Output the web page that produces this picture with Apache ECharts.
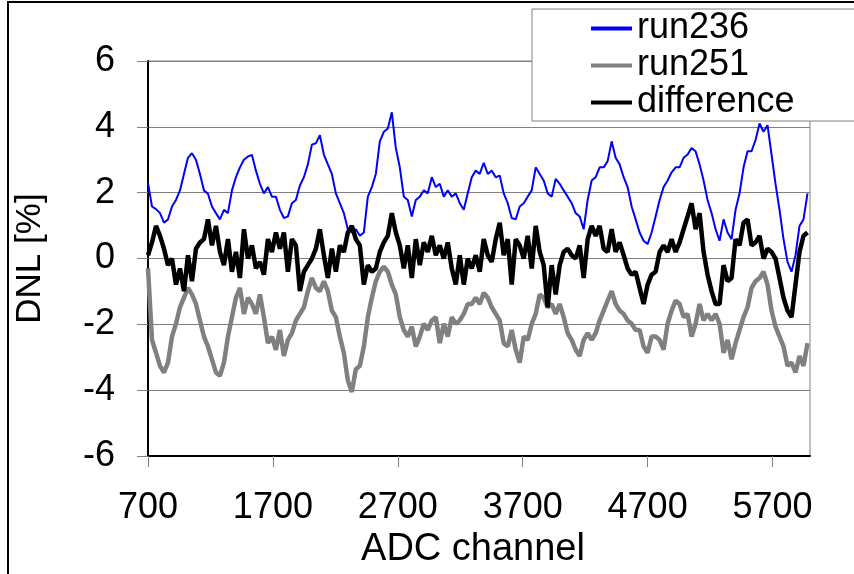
<!DOCTYPE html>
<html>
<head>
<meta charset="utf-8">
<script src="https://cdn.jsdelivr.net/npm/echarts@6/dist/echarts.min.js"></script>
<style>
html,body{margin:0;padding:0;background:#fff;}
#c{width:854px;height:574px;}
</style>
</head>
<body>
<div id="c"></div>
<script>
// sampling grid: first ADC channel and channel step between samples
const chStart = 700;
const chStep = 32;
const xTicks = [700, 1700, 2700, 3700, 4700, 5700];
const yTicks = [-6, -4, -2, 0, 2, 4, 6];
const seriesNames = ['run236', 'run251', 'difference'];

const run236 = [2.3,1.58,1.5,1.38,1.09,1.19,1.58,1.78,2.07,2.57,3.06,3.2,3.0,2.57,2.07,1.97,1.58,1.38,1.19,1.48,1.38,2.07,2.47,2.77,3.0,3.1,3.15,2.67,
2.27,1.98,2.17,1.88,1.88,1.48,1.23,1.28,1.68,1.78,2.22,2.47,2.86,3.46,3.5,3.75,3.16,2.86,2.57,1.98,1.68,1.38,0.89,0.79,0.89,0.69,0.79,1.88,
2.17,2.57,3.56,3.85,3.95,4.44,3.36,2.77,1.88,1.78,1.28,1.78,1.88,2.07,1.98,2.47,2.17,2.27,1.88,2.07,1.88,1.98,1.68,1.48,1.98,2.47,2.67,
2.57,2.91,2.57,2.67,2.47,2.52,1.98,1.68,1.23,1.19,1.58,1.68,1.88,2.07,2.77,2.57,2.37,1.98,1.88,2.42,2.27,2.07,1.88,1.68,1.38,1.28,0.89,1.78,
2.37,2.47,2.77,2.77,2.96,3.56,3.06,2.86,2.47,2.17,1.58,1.19,0.79,0.54,0.44,0.79,1.28,1.78,2.17,2.37,2.62,2.77,2.77,3.06,3.16,3.36,3.26,
2.86,2.37,1.78,1.38,0.89,0.54,1.19,0.79,0.59,1.48,1.98,2.77,3.26,3.26,3.6,4.1,3.85,4.05,3.16,2.27,1.48,0.59,-0.1,-0.4,0.1,0.99,1.19,1.98];

const run251 = [-0.3,-2.47,-2.86,-3.26,-3.46,-3.16,-2.37,-1.98,-1.48,-1.19,-0.89,-1.09,-1.38,-1.88,-2.37,-2.67,-3.06,-3.46,-3.56,-3.16,-2.37,-1.78,-1.19,-0.89,-1.68,-1.19,-1.38,-1.68,
-1.09,-1.78,-2.57,-2.37,-2.77,-2.17,-2.96,-2.47,-2.27,-1.88,-1.68,-1.48,-0.99,-0.59,-0.89,-0.99,-0.69,-0.99,-1.58,-1.78,-2.37,-2.86,-3.7,-4.05,-3.36,-3.26,-2.67,-1.78,
-1.19,-0.69,-0.4,-0.25,-0.4,-0.79,-1.09,-1.78,-2.17,-2.37,-2.07,-2.67,-2.37,-1.98,-2.17,-1.88,-1.78,-2.57,-1.98,-2.37,-1.78,-1.98,-1.88,-1.68,-1.38,-1.38,-1.19,
-1.38,-1.04,-1.19,-1.48,-1.68,-1.88,-2.57,-2.67,-2.17,-2.77,-3.16,-2.37,-2.47,-1.98,-1.68,-1.09,-1.19,-1.48,-1.38,-1.68,-1.38,-1.78,-2.27,-2.47,-2.77,-2.96,-2.47,-2.27,
-2.47,-2.27,-1.88,-1.58,-1.28,-0.99,-1.38,-1.58,-1.68,-1.88,-1.98,-2.17,-2.17,-2.67,-2.86,-2.37,-2.37,-2.47,-2.77,-1.98,-1.58,-1.28,-1.38,-1.78,-1.68,-2.37,-1.98,
-1.38,-1.88,-1.68,-1.88,-1.68,-1.98,-2.86,-2.47,-3.06,-2.57,-2.17,-1.78,-1.48,-0.89,-0.69,-0.59,-0.4,-0.79,-1.58,-2.07,-2.37,-2.67,-3.26,-3.16,-3.46,-2.96,-3.26,-2.57];

const difference = [0.1,0.49,0.99,0.69,0.3,-0.2,0,-0.79,-0.3,-0.99,0.1,-0.69,0.3,0.49,0.59,1.19,0.4,0.99,0.2,-0.2,0.59,-0.4,0.2,-0.59,0.89,0,0.4,-0.3,
-0.1,-0.49,0.59,0.2,0.79,0.3,0.79,-0.4,0.59,0.4,-0.99,-0.4,-0.2,0,0.3,0.89,0.1,-0.59,0.3,-0.4,0.4,0.2,0.79,0.99,0.59,0.4,-0.79,-0.2,
-0.4,-0.3,0.2,0.49,0.69,1.38,0.79,0.4,-0.3,0.4,-0.59,0.59,-0.2,0.49,0.2,0.69,0.1,0.4,0,0.49,-0.3,-0.79,0.1,-0.79,0,-0.3,0.1,
-0.4,0.59,0.1,-0.1,0.59,1.09,0.1,0.59,-0.79,0.59,0.4,0,0.69,-0.3,0.99,0.2,-0.2,-1.48,-0.2,-1.09,-0.2,0.2,0.3,0.1,0,0.4,-0.59,0.59,
0.99,0.69,0.99,0.3,0.2,0.89,0.2,0.49,0.1,-0.3,-0.49,-0.4,-0.89,-1.38,-0.79,-0.49,-0.4,0.2,0.4,0.2,0.59,0.2,0.49,0.89,1.28,1.68,0.89,
1.38,0.2,-0.49,-0.99,-1.38,-1.38,-0.2,-0.69,-0.59,0.59,0.4,1.09,1.19,0.4,0.49,0.69,0,0.3,0.2,0,-0.59,-1.19,-1.58,-1.78,-0.79,0.2,0.69,0.79];

function pairs(arr) {
  return arr.map((v, i) => [chStart + i * chStep, v]);
}

const FONT = '"Liberation Sans", Arial, sans-serif';
const chart = echarts.init(document.getElementById('c'), null, {renderer: 'canvas'});

chart.setOption({
  animation: false,
  backgroundColor: '#ffffff',
  textStyle: {fontFamily: FONT, color: '#000'},
  graphic: [{
    type: 'rect', z: -10, silent: true,
    shape: {x: 8, y: 2, width: 900, height: 700},
    style: {fill: 'none', stroke: '#000', lineWidth: 2}
  }],
  grid: {
    left: 148, right: 44, top: 61, bottom: 108,
    show: true, borderColor: '#808080', borderWidth: 1, backgroundColor: 'transparent'
  },
  legend: {
    left: 532, top: 9,
    orient: 'vertical',
    data: seriesNames,
    itemWidth: 41, itemHeight: 4, itemGap: 0,
    padding: [1, 140, 0, 59],
    borderColor: '#808080', borderWidth: 1,
    backgroundColor: '#ffffff',
    textStyle: {fontFamily: FONT, fontSize: 36, color: '#000', lineHeight: 37},
    icon: 'rect',
    selectedMode: false
  },
  xAxis: {
    type: 'value', min: 700, max: 6000,
    name: 'ADC channel', nameLocation: 'middle', nameGap: 65,
    nameTextStyle: {fontFamily: FONT, fontSize: 38, color: '#000', padding: [0, 12, 0, 0]},
    axisLine: {show: true, onZero: false, lineStyle: {color: '#000', width: 2}},
    axisTick: {show: true, length: 11, customValues: xTicks, lineStyle: {color: '#808080', width: 1}},
    axisLabel: {customValues: xTicks, margin: 34, fontFamily: FONT, fontSize: 36, color: '#000',
      formatter: v => String(v)},
    splitLine: {show: false}
  },
  yAxis: {
    type: 'value', min: -6, max: 6, interval: 2,
    name: 'DNL [%]', nameLocation: 'middle', nameGap: 100, nameRotate: 90,
    nameTextStyle: {fontFamily: FONT, fontSize: 35, color: '#000'},
    axisLine: {show: true, onZero: false, lineStyle: {color: '#000', width: 2}},
    axisTick: {show: true, length: 11, lineStyle: {color: '#808080', width: 1}},
    axisLabel: {margin: 33, fontFamily: FONT, fontSize: 36, color: '#000', formatter: v => String(v)},
    splitLine: {show: true, lineStyle: {color: '#808080', width: 1}}
  },
  series: [
    {name: 'run236', type: 'line', data: pairs(run236), symbol: 'none', color: '#0000ff',
     lineStyle: {color: '#0000ff', width: 2}, itemStyle: {color: '#0000ff'}},
    {name: 'run251', type: 'line', data: pairs(run251), symbol: 'none', color: '#808080',
     lineStyle: {color: '#808080', width: 4.5}, itemStyle: {color: '#808080'}},
    {name: 'difference', type: 'line', data: pairs(difference), symbol: 'none', color: '#000000',
     lineStyle: {color: '#000000', width: 4.5}, itemStyle: {color: '#000000'}}
  ]
});
</script>
</body>
</html>
